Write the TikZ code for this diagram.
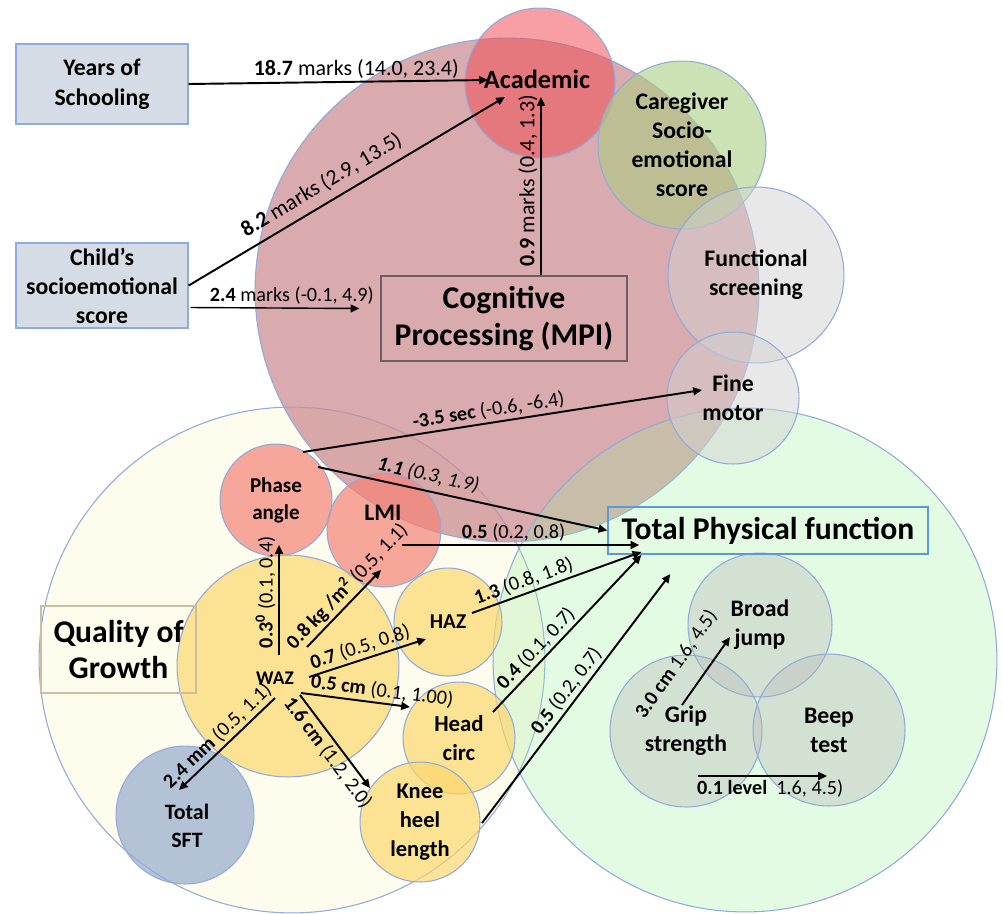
\documentclass[tikz,border=0pt]{standalone}
\usepackage{fontspec}
\setmainfont{Carlito}
\usepackage{tikz}
\usetikzlibrary{arrows.meta}

\definecolor{bubline}{HTML}{8FAADC}
\definecolor{boxfill}{HTML}{D6DCE5}
\definecolor{cogpink}{RGB}{204,141,147}
\definecolor{grwcream}{RGB}{254,252,236}
\definecolor{phygreen}{RGB}{159,238,159}
\definecolor{acadred}{RGB}{240,80,85}
\definecolor{caregreen}{RGB}{170,205,130}
\definecolor{funcgray}{RGB}{210,210,210}
\definecolor{phasered}{RGB}{245,130,120}
\definecolor{growyel}{RGB}{252,215,110}
\definecolor{sftblue}{RGB}{150,170,205}
\definecolor{testgray}{RGB}{180,180,180}
\definecolor{mpiline}{RGB}{110,95,95}
\definecolor{qogline}{RGB}{200,192,160}
\definecolor{tpfline}{RGB}{91,155,213}

\begin{document}
\begin{tikzpicture}[x=0.02cm, y=-0.02cm,
  bub/.style={circle, draw=bubline, line width=0.6pt, minimum size=#1*0.04cm,
    inner sep=0pt, align=center, text opacity=1,
    font=\bfseries\fontsize{13.5}{16.5}\selectfont},
  box/.style={rectangle, line width=0.8pt, inner sep=0pt, align=center},
  arr/.style={-{Triangle[length=5pt,width=4.5pt]}, line width=1.1pt},
  lab/.style={font=\fontsize{11.5}{13}\selectfont, inner sep=1.5pt},
  biglab/.style={font=\fontsize{12.5}{14}\selectfont, inner sep=1.5pt}]

\useasboundingbox (0,0) rectangle (1003,913);

% the three domains
\node[bub=253, fill=grwcream] (grw) at (292,660) {};
\node[bub=252, fill=cogpink, fill opacity=0.75] (cog) at (507,290) {};
\node[bub=252, fill=phygreen, fill opacity=0.29] (phy) at (745,660) {};

% cognitive outcomes
\node[bub=75, fill=acadred, fill opacity=0.55] (acad) at (540,83) {};
\node[font=\bfseries\fontsize{15}{18}\selectfont] (acadt) at (537,79) {Academic};
\node[bub=84, fill=caregreen, fill opacity=0.6] (care) at (682,145)
  {Caregiver\\Socio-\\emotional\\score};
\node[bub=88, fill=funcgray, fill opacity=0.5] (func) at (756,275)
  {Functional\\screening};
\node[bub=66, fill=funcgray, fill opacity=0.5] (fine) at (733,398) {Fine\\motor};

% growth
\node[bub=56, fill=phasered, fill opacity=0.7,
  font=\bfseries\fontsize{12}{15.3}\selectfont] (phase) at (276,500) {Phase\\angle};
\node[bub=57, fill=phasered, fill opacity=0.7] (lmi) at (384,530) {};
\node[font=\bfseries\fontsize{13.5}{16}\selectfont] (lmit) at (383,513) {LMI};
\node[bub=111, fill=growyel, fill opacity=0.7] (waz) at (288,666) {};
\node[font=\bfseries\fontsize{11}{13}\selectfont] (wazt) at (275,678) {WAZ};
\node[bub=54, fill=growyel, fill opacity=0.7,
  font=\bfseries\fontsize{12}{14}\selectfont] (haz) at (448,622) {HAZ};
\node[bub=56, fill=growyel, fill opacity=0.7,
  font=\bfseries\fontsize{13}{16}\selectfont] (head) at (459,738) {Head\\circ};
\node[bub=60, fill=growyel, fill opacity=0.7,
  font=\bfseries\fontsize{12.8}{16.7}\selectfont] (knee) at (420,822) {Knee\\heel\\length};
\node[bub=69, fill=sftblue, fill opacity=0.7] (sft) at (185,815) {};
\node[font=\bfseries\fontsize{12.5}{16}\selectfont, align=center] (sftt) at (187,826)
  {Total\\SFT};

% physical function
\node[bub=72, fill=testgray, fill opacity=0.35] (broad) at (760,625) {Broad\\jump};
\node[bub=76, fill=testgray, fill opacity=0.35] (grip) at (686,731) {Grip\\strength};
\node[bub=76, fill=testgray, fill opacity=0.35] (beep) at (829,730) {Beep\\test};

% boxes
\node[box, draw=bubline, fill=boxfill, minimum width=3.44cm, minimum height=1.6cm,
  font=\bfseries\fontsize{13.5}{17}\selectfont] (yrs) at (102,84) {Years of\\Schooling};
\node[box, draw=bubline, fill=boxfill, minimum width=3.44cm, minimum height=1.7cm,
  font=\bfseries\fontsize{13.5}{16.5}\selectfont] (csoc) at (102,285.5)
  {Child's\\socioemotional\\score};
\node[box, draw=mpiline, minimum width=4.92cm, minimum height=1.7cm,
  font=\bfseries\fontsize{18}{21.5}\selectfont] (mpi) at (504,318.5)
  {Cognitive\\Processing (MPI)};
\node[box, draw=qogline, minimum width=3.1cm, minimum height=1.74cm,
  font=\bfseries\fontsize{18}{20.4}\selectfont] (qog) at (118.5,649.5)
  {Quality of\\Growth};
\node[box, draw=tpfline, minimum width=6.4cm, minimum height=0.94cm,
  font=\bfseries\fontsize{18}{21}\selectfont] (tpf) at (768,530.5)
  {Total Physical function};

% paths into cognition
\draw[arr] (yrs.east) -- node[biglab, pos=0.56, above]
  {\textbf{18.7} marks (14.0, 23.4)} ([shift={(-52,-3)}]acad.center);
\draw[arr] (csoc.east) -- node[biglab, pos=0.45, above=3pt, sloped]
  {\textbf{8.2} marks (2.9, 13.5)} ([shift={(-35,14)}]acad.center);
\draw[arr, line width=0.8pt] ([shift={(2,22)}]csoc.east) -- node[lab, pos=0.6, above]
  {\textbf{2.4} marks (-0.1, 4.9)} ([shift={(-21,-10)}]mpi.west);
\draw[arr] ([shift={(37,0)}]mpi.north) -- node[biglab, pos=0.53, rotate=90, anchor=south]
  {\textbf{0.9} marks (0.4, 1.3)} ([shift={(1,14)}]acad.center);

% phase angle and LMI
\draw[arr] ([shift={(27,-48)}]phase.center) -- node[lab, pos=0.47, above, sloped]
  {\textbf{-3.5 sec} (-0.6, -6.4)} ([shift={(-31,-8)}]fine.center);
\draw[arr] ([shift={(42,-33)}]phase.center) -- node[lab, pos=0.37, above=2pt, sloped]
  {\textbf{\textit{1.1}} \textit{(0.3, 1.9)}} (tpf.west);
\draw[arr] ([shift={(18,15)}]lmi.center) -- node[lab, pos=0.47, above]
  {\textbf{0.5} (0.2, 0.8)} ([shift={(32,14.5)}]tpf.west);

% from WAZ
\draw[arr] ([shift={(-9,-11)}]waz.center) -- node[lab, pos=0.57, rotate=90, anchor=south]
  {\textbf{0.3\textsuperscript{0}} (0.1, 0.4)} ([shift={(3,45)}]phase.center);
\draw[arr] ([shift={(19,-19)}]waz.center) -- node[lab, pos=0.67, above, sloped]
  {\textbf{0.8 kg /m\textsuperscript{2}} (0.5, 1.1)} ([shift={(-3,40)}]lmi.center);
\draw[arr] ([shift={(21,11)}]waz.center) -- node[lab, pos=0.47, above, sloped]
  {\textbf{0.7} (0.5, 0.8)} ([shift={(-22,17)}]haz.center);
\draw[arr] ([shift={(13,27)}]waz.center) -- node[lab, pos=0.73, above, sloped]
  {\textbf{0.5 cm} (0.1, 1.00)} ([shift={(-49,-31)}]head.center);
\draw[arr] ([shift={(12,29)}]waz.center) -- node[lab, pos=0.54, below, sloped]
  {\textbf{1.6 cm} (1.2, 2.0)} ([shift={(-50,-34)}]knee.center);
\draw[arr] ([shift={(-13,32)}]waz.center) -- node[lab, pos=0.51, above, sloped]
  {\textbf{2.4 mm} (0.5, 1.1)} ([shift={(-6,-25)}]sft.center);

% into physical function
\draw[arr] ([shift={(24,-9)}]haz.center) -- node[lab, pos=0.33, above, sloped]
  {\textbf{1.3} (0.8, 1.8)} ([shift={(34,21.5)}]tpf.west);
\draw[arr] ([shift={(34,-26)}]head.center) -- node[lab, pos=0.35, above, sloped]
  {\textbf{0.4} (0.1, 0.7)} ([shift={(34,24.5)}]tpf.west);
\draw[arr] ([shift={(62,1)}]knee.center) -- node[lab, pos=0.5, above, sloped]
  {\textbf{0.5} (0.2, 0.7)} ([shift={(63,43.5)}]tpf.west);
\draw[arr] ([shift={(-4,-26)}]grip.center) -- node[lab, pos=0.36, above=9pt, sloped]
  {\textbf{3.0 cm} 1.6, 4.5)} ([shift={(-30,12)}]broad.center);
\draw[arr] ([shift={(12,45)}]grip.center) -- node[lab, pos=0.56, below]
  {\textbf{0.1 level}\ \ 1.6, 4.5)} ([shift={(-2,46)}]beep.center);

\end{tikzpicture}
\end{document}
